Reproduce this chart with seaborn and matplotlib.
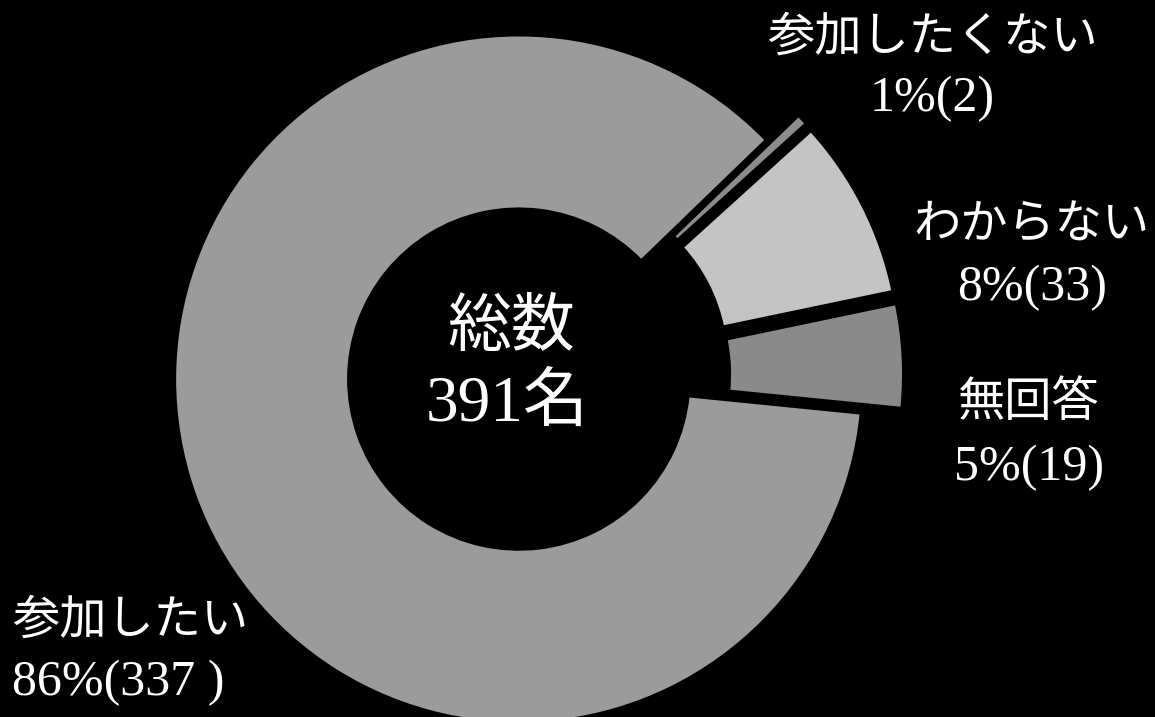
import matplotlib
matplotlib.use("Agg")
import matplotlib.pyplot as plt
import seaborn as sns

# Survey answers
categories = ["参加したい", "参加したくない", "わからない", "無回答"]
counts = [337, 2, 33, 19]
count_pad = [" ", "", "", ""]
shades = ["#9b9b9b", "#8c8c8c", "#c4c4c4", "#8a8a8a"]
center_title = "総数"
center_unit = "名"

sns.set_theme(style="dark", rc={
    "figure.facecolor": "black",
    "axes.facecolor": "black",
    "text.color": "white",
})
plt.rcParams["font.family"] = ["Noto Sans CJK JP", "DejaVu Sans"]
num_family = ["Liberation Serif", "Noto Sans CJK JP"]

W, H = 1155, 717
fig = plt.figure(figsize=(W / 100, H / 100), dpi=100)
fig.patch.set_facecolor("black")

# Doughnut axes: one data unit = ring outer radius in pixels
scale = 344.0
cx, cy = 528.5, 375.7
half = 1.6
span = 2 * half * scale
pie_ax = fig.add_axes([(cx - half * scale) / W, (H - cy - half * scale) / H,
                       span / W, span / H])
pie_ax.set_facecolor("none")
pie_ax.pie(
    counts,
    colors=shades,
    startangle=-5.7,
    counterclock=False,
    explode=[0.03, 0.09, 0.09, 0.09],
    radius=1.0,
    wedgeprops=dict(width=0.505, edgecolor="black", linewidth=2),
)
pie_ax.set_xlim(-half, half)
pie_ax.set_ylim(-half, half)
pie_ax.axis("off")

# Text layer in pixel coordinates (y downwards)
txt = fig.add_axes([0, 0, 1, 1], facecolor="none")
txt.set_xlim(0, W)
txt.set_ylim(H, 0)
txt.axis("off")

total = sum(counts)
value_labels = [f"{round(100 * n / total)}%({n}{p})" for n, p in zip(counts, count_pad)]

label_pos = [
    # (x, y_name, y_value, ha)
    (12, 620, 683, "left"),
    (932, 37, 99, "center"),
    (1032, 225, 288, "center"),
    (1029, 403, 468, "center"),
]
for name, val, (x, y1, y2, ha) in zip(categories, value_labels, label_pos):
    txt.text(x, y1, name, ha=ha, va="center", fontsize=34, color="white")
    txt.text(x, y2, val, ha=ha, va="center", fontsize=36, color="white",
             family=num_family)

txt.text(511, 328, center_title, ha="center", va="center", fontsize=46, color="white")
txt.text(507, 405, f"{total}{center_unit}", ha="center", va="center", fontsize=47,
         color="white", family=num_family)

fig.savefig("out.png", dpi=100, facecolor="black")
